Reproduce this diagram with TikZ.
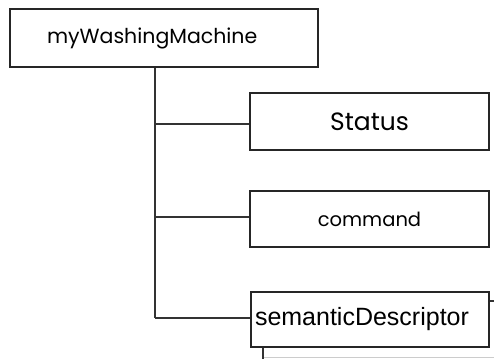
\documentclass[tikz,border=0pt]{standalone}
\usepackage{fontspec}
\setmainfont{Liberation Sans}
\newfontfamily\sketchfont{Poppins}
\begin{document}
\begin{tikzpicture}[x=1pt,y=-1pt,
  boxline/.style={draw=black!85, line width=1.6pt},
  sketchbox/.style={boxline, fill=white, rectangle, inner sep=0pt,
    font=\sketchfont\fontsize{20.5}{22}\selectfont},
  link/.style={draw=black!80, line width=2pt}]
  \useasboundingbox (0,0) rectangle (494,358);

  % partly hidden box behind the last child
  \begin{scope}
    \clip (0,0) rectangle (494,358);
    \draw[draw=black!80, line width=1.4pt] (489,301) -- (500,301);
    \draw[draw=black!80, line width=1.6pt] (263,347) -- (263,360);
    \draw[draw=black!20, line width=1pt] (264,357.5) -- (500,357.5);
  \end{scope}

  \node[sketchbox, minimum width=308pt, minimum height=58pt, text width=234pt,
        align=left, inner xsep=37pt] (root) at (164,38) {myWashingMachine};
  \node[sketchbox, minimum width=239pt, minimum height=57pt,
        font=\sketchfont\fontsize{25}{27}\selectfont] (status) at (369.5,121.5) {Status};
  \node[sketchbox, minimum width=239pt, minimum height=56pt,
        font=\sketchfont\fontsize{19.5}{21}\selectfont] (command) at (369.5,219) {command};
  \node[sketchbox, minimum width=238pt, minimum height=55pt, text width=230pt, align=left,
        font=\fontsize{25}{27}\selectfont] (sem) at (370,319.5) {semanticDescriptor};

  \coordinate (sx) at (155,0);
  \draw[link] (root.south -| sx) -- ([yshift=1.5pt]sem.west -| sx);
  \draw[link] ([yshift=-2.5pt]status.west -| sx) -- ([yshift=-2.5pt]status.west);
  \draw[link] ([yshift=2pt]command.west -| sx) -- ([yshift=2pt]command.west);
  \draw[link] ([yshift=1.5pt]sem.west -| sx) -- ([yshift=1.5pt]sem.west);
\end{tikzpicture}
\end{document}
